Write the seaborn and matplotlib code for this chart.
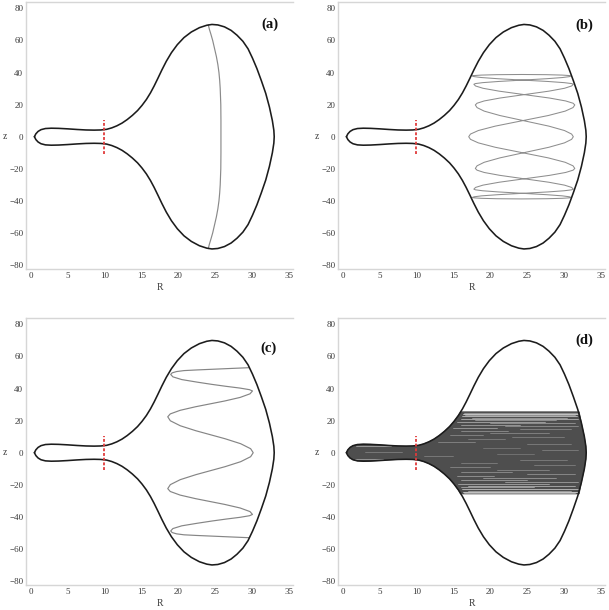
import numpy as np
import pandas as pd
import matplotlib
matplotlib.use("Agg")
import matplotlib.pyplot as plt
import seaborn as sns

# ---------------- data ----------------
# zero-velocity curve, upper half (R, z); lower half is its mirror image
bnd_R = [0.5, 0.7, 1.0, 1.4, 2.0, 2.8, 3.8, 5.0, 6.3, 7.5, 8.6, 9.5, 10.3, 11.0, 11.7,
         12.4, 13.1, 13.8, 14.5, 15.1, 15.7, 16.25, 16.75, 17.25, 17.8, 18.4, 19.1, 19.9,
         20.8, 21.8, 22.9, 23.9, 24.6, 25.4, 26.3, 27.2, 28.0, 28.8, 29.5, 30.1, 30.7,
         31.3, 31.9, 32.4, 32.8, 33.0, 33.05]
bnd_z = [0.0, 1.8, 3.3, 4.4, 5.1, 5.3, 5.2, 4.9, 4.5, 4.2, 4.1, 4.2, 4.6, 5.5, 6.8,
         8.5, 10.7, 13.3, 16.3, 19.5, 23.2, 27.3, 31.6, 36.3, 41.6, 47.0, 52.4, 57.4,
         61.8, 65.3, 68.0, 69.5, 70.0, 69.7, 68.5, 66.3, 63.3, 59.5, 54.8, 49.0, 42.5,
         35.0, 27.0, 18.5, 10.0, 4.0, 0.0]

# orbit (a)
orb_a_R = [24.1, 24.25, 24.45, 24.7, 24.95, 25.2, 25.4, 25.55, 25.65, 25.72, 25.8,
           25.82, 25.82, 25.82, 25.8, 25.72, 25.65, 25.55, 25.4, 25.2, 24.95, 24.7,
           24.45, 24.25, 24.1]
orb_a_z = [69.8, 67.0, 64.0, 60.0, 55.0, 50.0, 45.0, 40.0, 35.0, 30.0, 20.0,
           10.0, 0.0, -10.0, -20.0, -30.0, -35.0, -40.0, -45.0, -50.0, -55.0, -60.0,
           -64.0, -67.0, -69.8]

# orbit (b)
orb_b_R = [17.60, 17.83, 18.84, 21.03, 24.45, 27.88, 30.06, 31.07, 31.30,
           31.07, 30.10, 27.98, 24.65, 21.33, 19.20, 18.23, 18.00,
           18.23, 19.20, 21.33, 24.65, 27.98, 30.10, 31.07, 31.30,
           31.07, 30.10, 27.98, 24.65, 21.33, 19.20, 18.23, 18.00,
           18.23, 19.20, 21.33, 24.65, 27.98, 30.10, 31.07, 31.30,
           31.07, 30.06, 27.88, 24.45, 21.03, 18.84, 17.83, 17.60,
           17.83, 18.81, 20.95, 24.30, 27.65, 29.79, 30.77, 31.00,
           30.78, 29.81, 27.70, 24.40, 21.10, 18.99, 18.02, 17.80,
           18.03, 19.04, 21.23, 24.65, 28.08, 30.26, 31.27, 31.50,
           31.26, 30.20, 27.90, 24.30, 20.70, 18.40, 17.34, 17.10,
           17.34, 18.40, 20.70, 24.30, 27.90, 30.20, 31.26, 31.50,
           31.27, 30.26, 28.08, 24.65, 21.23, 19.04, 18.03, 17.80,
           18.02, 18.99, 21.10, 24.40, 27.70, 29.81, 30.78, 31.00,
           30.77, 29.79, 27.65, 24.30, 20.95, 18.81, 17.83, 17.60]
orb_b_z = [-37.90, -37.47, -36.89, -36.17, -35.30, -34.43, -33.71, -33.13, -32.70,
           -31.63, -30.20, -28.40, -26.25, -24.10, -22.30, -20.87, -19.80,
           -18.16, -15.96, -13.21, -9.90, -6.59, -3.84, -1.64, 0.00,
           1.64, 3.84, 6.59, 9.90, 13.21, 15.96, 18.16, 19.80,
           20.87, 22.30, 24.10, 26.25, 28.40, 30.20, 31.63, 32.70,
           33.13, 33.71, 34.43, 35.30, 36.17, 36.89, 37.47, 37.90,
           38.13, 38.42, 38.68, 38.80, 38.68, 38.42, 38.13, 37.90,
           37.47, 36.89, 36.17, 35.30, 34.43, 33.71, 33.13, 32.70,
           31.63, 30.20, 28.40, 26.25, 24.10, 22.30, 20.87, 19.80,
           18.16, 15.96, 13.21, 9.90, 6.59, 3.84, 1.64, 0.00,
           -1.64, -3.84, -6.59, -9.90, -13.21, -15.96, -18.16, -19.80,
           -20.87, -22.30, -24.10, -26.25, -28.40, -30.20, -31.63, -32.70,
           -33.13, -33.71, -34.43, -35.30, -36.17, -36.89, -37.47, -37.90,
           -38.13, -38.42, -38.68, -38.80, -38.68, -38.42, -38.13, -37.90]

# orbit (c), upper half (from the curve at top right down to z = 0); symmetric below
orb_c_R = [29.6, 27.5, 25.0, 22.5, 20.8, 19.8, 19.2, 19.0,
           19.3, 20.5, 22.6, 24.6, 26.5, 28.4, 29.7, 30.1,
           29.76, 28.42, 26.32, 24.35, 22.38, 20.28, 18.94, 18.6,
           18.95, 20.30, 22.42, 24.4, 26.38, 28.5, 29.85, 30.2]
orb_c_z = [53.0, 52.6, 52.1, 51.6, 51.2, 50.6, 49.8, 48.8,
           47.3, 45.6, 44.0, 42.6, 41.4, 40.3, 39.3, 38.5,
           36.71, 34.47, 32.24, 30.45, 28.66, 26.43, 24.19, 22.4,
           19.91, 16.8, 13.69, 11.2, 8.71, 5.6, 2.49, 0.0]

# region filled by the chaotic orbit (d): upper and lower envelopes
env_up_R = [0.5, 0.7, 1.0, 1.4, 2.0, 2.8, 3.8, 5.0, 6.3, 7.5, 8.6, 9.5, 10.3, 11.0,
            11.7, 12.4, 13.1, 13.8, 14.5, 15.1, 15.7, 16.0, 24.0, 32.1, 32.4, 32.8,
            33.0, 33.05]
env_up_z = [0.0, 1.8, 3.3, 4.4, 5.1, 5.3, 5.2, 4.9, 4.5, 4.2, 4.1, 4.2, 4.6, 5.5,
            6.8, 8.5, 10.7, 13.3, 16.3, 19.5, 23.3, 25.5, 25.5, 25.5, 18.5, 10.0,
            4.0, 0.0]
env_lo_z = [0.0, -1.8, -3.3, -4.4, -5.1, -5.3, -5.2, -4.9, -4.5, -4.2, -4.1, -4.2,
            -4.6, -5.5, -6.8, -8.5, -10.7, -13.3, -16.3, -19.5, -23.3, -25.7, -25.7,
            -25.7, -18.5, -10.0, -4.0, 0.0]

# light streaks inside the chaotic region (z, R start, R end, alpha)
streak_z = [25.0, 24.3, 23.6, 22.8, 21.9, 21.0, 20.1, 19.2, 18.3, 17.5, 16.6, 15.7,
            14.8, 13.6, 12.4, 11.0, 9.8, 8.3, 6.8, 5.5, 3.9, 3.0, 1.5, 0.6, -0.8,
            -2.2, -3.7, -4.5, -6.2, -7.8, -9.2, -10.6, -12.0, -13.3, -14.6, -15.8,
            -17.0, -18.2, -19.4, -20.5, -21.6, -22.6, -23.6, -24.6, -25.3]
streak_r0 = [16.4, 16.3, 16.6, 16.2, 17.5, 16.0, 18.0, 15.5, 20.0, 16.0, 22.0, 15.0,
             24.0, 16.0, 20.0, 14.5, 23.0, 17.0, 13.0, 25.0, 1.8, 19.0, 27.0, 3.0, 21.0,
             11.0, 1.6, 24.0, 16.0, 26.0, 14.5, 21.0, 16.0, 25.0, 15.5, 19.0,
             16.0, 22.0, 15.6, 17.0, 16.0, 16.2, 17.0, 16.3, 16.5]
streak_r1 = [32.0, 32.0, 31.5, 31.8, 30.5, 32.0, 29.0, 27.5, 31.5, 24.0, 32.0, 21.0,
             31.0, 22.5, 28.0, 19.0, 30.0, 22.0, 18.0, 31.0, 6.5, 24.0, 32.0, 8.0, 26.0,
             15.0, 5.5, 30.5, 21.0, 31.5, 20.0, 28.0, 23.0, 31.5, 20.5, 29.0,
             25.0, 32.0, 28.0, 31.5, 26.0, 32.0, 31.0, 32.0, 31.5]
streak_a = [0.5, 0.85, 0.5, 0.7, 0.5, 0.6, 0.45, 0.55, 0.45, 0.5, 0.4, 0.5,
            0.35, 0.4, 0.35, 0.35, 0.3, 0.3, 0.35, 0.3, 0.55, 0.25, 0.3, 0.3, 0.25,
            0.3, 0.5, 0.3, 0.3, 0.3, 0.35, 0.35, 0.4, 0.4, 0.45, 0.45,
            0.5, 0.5, 0.55, 0.6, 0.55, 0.7, 0.55, 0.85, 0.5]

x_ticks = [0, 5, 10, 15, 20, 25, 30, 35]
y_ticks = [-80, -60, -40, -20, 0, 20, 40, 60, 80]
panel_labels = ["(a)", "(b)", "(c)", "(d)"]
red_R = [10.0, 10.0]
red_z = [-10.5, 10.5]

# ---------------- style ----------------
sns.set_theme(style="white")
plt.rcParams['font.family'] = ['Liberation Serif', 'DejaVu Serif']
plt.rcParams['axes.unicode_minus'] = True

fig = plt.figure(figsize=(6.09, 6.10), dpi=100)
W, H = 609.0, 610.0
rects = [(26, 2), (338, 2), (26, 318), (338, 318)]
label_pos = [(0.914, 0.918), (0.923, 0.914), (0.908, 0.886), (0.923, 0.918)]

full_bR = bnd_R + bnd_R[::-1][1:]
full_bz = bnd_z + [-v for v in bnd_z[::-1][1:]]
full_cR = orb_c_R + orb_c_R[::-1][1:]
full_cz = orb_c_z + [-v for v in orb_c_z[::-1][1:]]

for i in range(4):
    lx, ty = rects[i]
    ax = fig.add_axes([lx / W, (H - ty - 267) / H, 267 / W, 267 / H])
    ax.set_xlim(-0.64, 35.6)
    ax.set_ylim(-82.5, 84.0)

    if i == 3:
        poly_R = env_up_R + env_up_R[::-1]
        poly_z = env_up_z + env_lo_z[::-1]
        ax.fill(poly_R, poly_z, color="#4e4e4e", lw=0.6, ec="#4e4e4e", zorder=1)
        for z0, r0, r1, a in zip(streak_z, streak_r0, streak_r1, streak_a):
            ax.plot([r0, r1], [z0, z0], color="white", lw=0.55, alpha=a, zorder=2)

    sns.lineplot(x=full_bR, y=full_bz, sort=False, estimator=None, ax=ax,
                 color="#1c1c1c", linewidth=1.15, zorder=3)

    if i == 0:
        sns.lineplot(x=orb_a_R, y=orb_a_z, sort=False, estimator=None, ax=ax,
                     color="#8a8a8a", linewidth=0.85, zorder=2)
    elif i == 1:
        sns.lineplot(x=orb_b_R, y=orb_b_z, sort=False, estimator=None, ax=ax,
                     color="#8e8e8e", linewidth=0.75, zorder=2)
    elif i == 2:
        sns.lineplot(x=full_cR, y=full_cz, sort=False, estimator=None, ax=ax,
                     color="#858585", linewidth=0.85, zorder=2)

    ax.plot(red_R, red_z, color="#e03a3a", lw=1.3, linestyle=(0, (1.6, 1.0)),
            zorder=5)

    ax.set_xticks(x_ticks)
    ax.set_yticks(y_ticks)
    ax.tick_params(axis="both", length=0, labelsize=6.5, labelcolor="#3a3a3a",
                   pad=2)
    for s in ["top", "left", "bottom"]:
        ax.spines[s].set_color("#d6d6d6")
        ax.spines[s].set_linewidth(1.0)
    ax.spines["right"].set_visible(False)
    ax.set_xlabel("")
    ax.set_ylabel("")
    ax.text(0.5, -0.071, "R", transform=ax.transAxes, ha="center", va="center",
            fontsize=7, color="#3a3a3a")
    ax.text(-0.08, 0.4955, "z", transform=ax.transAxes, ha="center", va="center",
            fontsize=7, color="#3a3a3a")
    px, py = label_pos[i]
    ax.text(px, py, panel_labels[i], transform=ax.transAxes, ha="center",
            va="center", fontsize=10.5, fontweight="bold", color="#111111")

fig.savefig("out.png", dpi=100)
